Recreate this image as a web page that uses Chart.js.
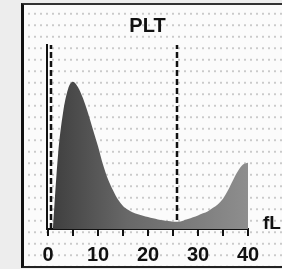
<!DOCTYPE html>
<html>
<head>
<meta charset="utf-8">
<script src="https://cdn.jsdelivr.net/npm/chart.js@4"></script>
<style>
html,body{margin:0;padding:0;background:#ededed;}
#wrap{position:relative;width:282px;height:269px;overflow:hidden;}
#frame{position:absolute;left:21px;top:3px;width:265px;height:261px;
  border-left:3px solid #111;border-top:2px solid #333;border-bottom:2px solid #222;
  background-color:#fbfbfb;
  background-image:radial-gradient(circle, #cacaca 0.7px, transparent 1.1px);
  background-size:6px 11.5px;background-position:2px 3px;}
canvas{position:absolute;left:0;top:0;}
</style>
</head>
<body>
<div id="wrap">
<div id="frame"></div>
<canvas id="plt" width="282" height="269"></canvas>
</div>
<script>
// PLT histogram (volume in fL, relative count 0..100)
const sizes  = [1, 2, 3, 4, 5, 6, 7, 8, 9, 10, 11, 12, 13, 14, 15, 16, 17, 18, 19, 20,
                21, 22, 23, 24, 25, 26, 27, 28, 29, 30, 31, 32, 33, 34, 35, 36, 37, 38, 39, 40];
const counts = [1, 40, 63, 76, 80, 77, 71, 63, 54, 45, 35, 27, 21, 16, 12.5, 10.5, 9, 8, 7.2, 6.5,
                5.8, 5.2, 4.7, 4.3, 4, 3.9, 4.5, 5.4, 6.4, 7.4, 8.5, 9.7, 11.5, 13.5, 16.5, 21, 26.5, 31.5, 35, 36];
const discriminators = [0.6, 25.8];   // dashed lines
const tickValues = [0, 5, 10, 15, 20, 25, 30, 35, 40];
const tickLabels = ['0', '', '10', '', '20', '', '30', '', '40'];

var ctx = document.getElementById('plt').getContext('2d');

var histData = sizes.map(function(s, i){ return {x: s, y: counts[i]}; });

var dashSets = discriminators.map(function(d){
    return {
        type: 'line',
        data: [{x: d, y: 0}, {x: d, y: 100}],
        borderColor: '#111',
        borderWidth: 2.5,
        borderDash: [6, 3],
        pointRadius: 0,
        fill: false,
        clip: false
    };
});

var fLabel = {
    id: 'fLabel',
    afterDraw: function(chart){
        var c = chart.ctx, a = chart.chartArea;
        c.save();
        c.fillStyle = '#111';
        c.font = 'bold 19px "Liberation Sans", Arial, sans-serif';
        c.textBaseline = 'middle';
        c.textAlign = 'left';
        c.fillText('fL', a.right + 15, a.bottom - 5);
        c.restore();
    }
};

var pltchart = new Chart(ctx, {
    type: 'line',
    data: {
        datasets: [{
            data: histData,
            borderWidth: 0,
            borderColor: 'rgba(0,0,0,0)',
            pointRadius: 0,
            cubicInterpolationMode: 'monotone',
            fill: 'origin',
            backgroundColor: function(context){
                var a = context.chart.chartArea;
                if(!a) return '#666';
                var g = context.chart.ctx.createLinearGradient(a.left, 0, a.right, 0);
                g.addColorStop(0, '#3c3c3c');
                g.addColorStop(0.4, '#686868');
                g.addColorStop(1, '#8e8e8e');
                return g;
            }
        }].concat(dashSets)
    },
    options: {
        responsive: false,
        animation: false,
        layout: { padding: { left: 47, right: 34, top: 4, bottom: 0 } },
        plugins: {
            legend: { display: false },
            tooltip: { enabled: false },
            title: {
                display: true,
                text: 'PLT',
                color: '#111',
                font: { family: '"Liberation Sans Narrow", "Liberation Sans", Arial, sans-serif', size: 20, weight: 'bold' },
                padding: { top: 10, bottom: 7 }
            }
        },
        scales: {
            x: {
                type: 'linear',
                min: -0.2,
                max: 40,
                afterBuildTicks: function(s){ s.ticks = tickValues.map(function(v){ return {value: v}; }); },
                afterFit: function(s){ s.height = 40; },
                ticks: {
                    autoSkip: false,
                    maxRotation: 0,
                    padding: 7,
                    color: '#111',
                    font: { family: '"Liberation Sans", Arial, sans-serif', size: 20, weight: 'bold' },
                    callback: function(v, i){ return tickLabels[i]; }
                },
                grid: { drawOnChartArea: false, color: '#111', lineWidth: 2, tickLength: 7 },
                border: { color: '#111', width: 2 }
            },
            y: {
                min: 0,
                max: 100,
                afterFit: function(s){ s.width = 0; },
                ticks: { display: false },
                grid: { display: false, drawTicks: false },
                border: { color: '#111', width: 2 }
            }
        }
    },
    plugins: [fLabel]
});
</script>
</body>
</html>
